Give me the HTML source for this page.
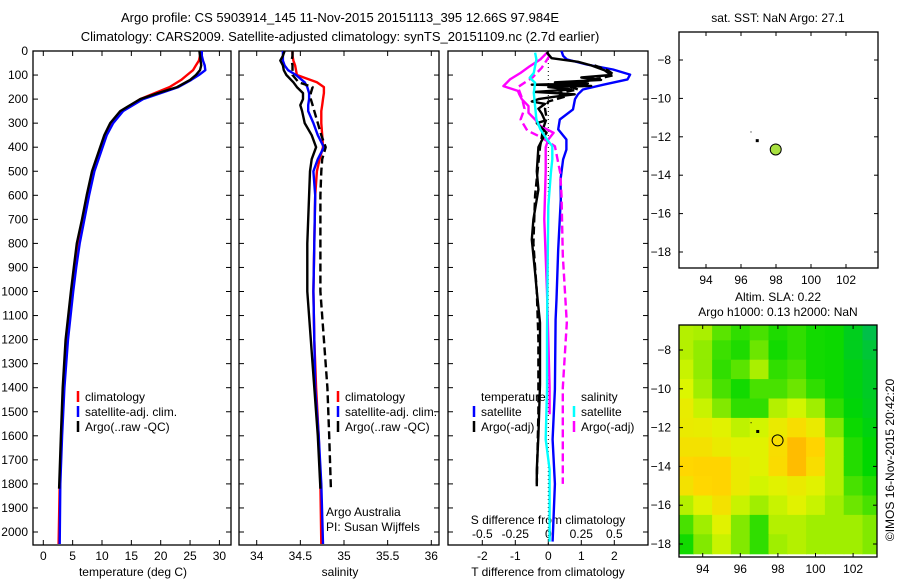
<!DOCTYPE html>
<html><head><meta charset="utf-8"><style>
html,body{margin:0;padding:0;background:#fff;}
svg{display:block;font-family:"Liberation Sans",sans-serif;}
text{font-size:12px;fill:#000;}
</style></head><body>
<svg id="chart" width="900" height="580" viewBox="0 0 900 580" xmlns="http://www.w3.org/2000/svg">
<defs><clipPath id="clipMap2"><rect x="679" y="325" width="198" height="232"/></clipPath></defs>
<text x="340" y="22" text-anchor="middle" style="font-size:13px">Argo profile: CS 5903914_145 11-Nov-2015 20151113_395 12.66S 97.984E</text>
<text x="340" y="41" text-anchor="middle" style="font-size:13px">Climatology: CARS2009. Satellite-adjusted climatology: synTS_20151109.nc (2.7d earlier)</text>
<g id="g"></g>
</svg>
<script>
// ---- data ----
const depthTickVals=[0,100,200,300,400,500,600,700,800,900,1000,1100,1200,1300,1400,1500,1600,1700,1800,1900,2000];
const tTickVals=[0,5,10,15,20,25,30];
const sTickVals=[34,34.5,35,35.5,36];
const sTickLabels=["34","34.5","35","35.5","36"];
const tdTickVals=[-2,-1,0,1,2];
const sdTickVals=[-0.5,-0.25,0,0.25,0.5];
const sdTickLabels=["-0.5","-0.25","0","0.25","0.5"];
const tDepths=[0,20,40,60,80,100,120,150,175,200,250,300,350,400,500,600,700,800,900,1000,1200,1400,1600,1800,2050];
const tArgoDepths=[0,20,40,60,80,100,120,150,175,200,250,300,350,400,500,600,700,800,900,1000,1200,1400,1600,1820];
const tArgo=[26.6,26.7,26.8,26.9,26.7,26.0,25.0,22.8,19.5,16.5,13.1,11.4,10.4,9.7,8.3,7.4,6.6,5.7,5.2,4.7,3.8,3.3,3.0,2.7];
const tClim=[26.7,26.7,26.5,26.0,25.5,24.5,23.5,21.5,19.0,16.5,13.3,11.6,10.6,9.9,8.5,7.6,6.8,6.0,5.4,4.9,4.0,3.4,3.1,2.8,2.6];
const tSat=[27.0,27.0,27.2,27.5,27.6,26.5,25.2,23.0,20.0,17.0,13.6,11.9,10.8,10.1,8.7,7.8,7.0,6.2,5.6,5.1,4.2,3.6,3.2,2.9,2.8];
const sDepths=[0,20,40,60,80,100,130,150,175,200,225,250,300,350,400,450,500,600,800,1000,1200,1400,1600,1800,2050];
const sArgoDepths=[0,20,40,60,80,100,130,150,175,200,225,250,300,350,400,450,500,600,800,1000,1200,1400,1600,1820];
const sClim=[34.41,34.41,34.42,34.44,34.45,34.46,34.69,34.77,34.77,34.76,34.75,34.74,34.74,34.75,34.76,34.72,34.69,34.67,34.66,34.65,34.66,34.68,34.71,34.73,34.74];
const sSat=[34.30,34.30,34.30,34.32,34.36,34.45,34.55,34.58,34.60,34.60,34.59,34.59,34.65,34.70,34.77,34.70,34.65,34.67,34.66,34.65,34.66,34.67,34.71,34.74,34.76];
const sArgo=[34.32,34.30,34.27,34.30,34.31,34.34,34.42,34.46,34.53,34.53,34.50,34.52,34.55,34.63,34.68,34.63,34.61,34.60,34.58,34.58,34.62,34.66,34.70,34.73];
const sArgoRaw=[34.41,34.41,34.40,34.41,34.41,34.41,34.48,34.64,34.62,34.62,34.64,34.66,34.70,34.74,34.79,34.75,34.74,34.73,34.73,34.73,34.77,34.81,34.83,34.85];
const tdSatDepths=[0,20,35,56,77,98,118,140,160,180,200,243,285,326,368,410,451,535,617,825,1033,1117,1407,1615,1800,2040];
const tdSat=[0.4,0.45,0.56,1.16,1.96,2.48,2.4,1.67,1.05,0.9,0.81,0.75,0.35,0.3,0.55,0.55,0.45,0.37,0.38,0.3,0.25,0.22,0.2,0.13,0.2,0.13];
const tdArgoDepths=[5,30,45,60,80,100,110,120,130,135,140,145,150,160,170,180,190,200,210,220,240,260,290,300,320,340,360,400,500,576,700,784,922,1000,1130,1387,1600,1740,1810];
const tdArgo=[-0.05,0.1,0.9,1.3,1.7,1.9,1.0,1.6,0.2,1.2,-0.5,1.3,0.0,0.7,-0.4,0.8,0.2,-0.3,-0.5,-0.1,-0.3,-0.2,-0.1,-0.35,-0.2,-0.05,-0.15,-0.3,-0.35,-0.3,-0.45,-0.5,-0.4,-0.35,-0.25,-0.25,-0.3,-0.35,-0.35];
const tdRawDepths=[60,80,100,115,130,145,160,175,190,210,240,280,320,400,600,800,1000,1200,1500,1800];
const tdRaw=[1.4,1.8,2.0,1.5,1.0,0.6,0.9,0.3,0.5,0.0,-0.1,-0.05,-0.15,-0.25,-0.4,-0.45,-0.35,-0.3,-0.3,-0.35];
const sdSatDepths=[7,35,63,91,111,132,174,230,285,326,368,396,451,506,645,922,1171,1407,1615,1740,2040];
const sdSat=[-0.1,-0.09,-0.1,-0.11,-0.14,-0.1,-0.11,-0.1,-0.09,-0.06,-0.01,0.03,0.03,0.02,0.0,-0.005,-0.01,-0.01,-0.02,0.01,0.01];
const sdArgoDepths=[7,35,63,91,118,146,166,180,201,229,257,285,312,340,368,400,500,700,1000,1400,1510];
const sdArgo=[-0.01,-0.06,-0.14,-0.21,-0.29,-0.34,-0.23,-0.22,-0.2,-0.15,-0.15,-0.1,-0.06,0.04,0.0,-0.02,-0.02,-0.03,-0.01,0.01,0.01];
const sdRawDepths=[20,70,110,150,195,240,285,330,360,396,506,600,850,1130,1400,1500,1800];
const sdRaw=[0.01,-0.05,-0.12,-0.23,-0.2,-0.18,-0.21,-0.16,-0.05,0.05,0.09,0.1,0.11,0.14,0.11,0.11,0.11];
const lonTicks=[94,96,98,100,102];
const latTicks=[-8,-10,-12,-14,-16,-18];
const floatLon=[97.984], floatLat=[-12.66];
const trackLon=[96.9,96.6], trackLat=[-12.2,-11.8];
const slaLons=[93,94,95,96,97,98,99,100,101,102,103];
const slaLats=[-7,-8,-9,-10,-11,-12,-13,-14,-15,-16,-17,-18];
const slaRows=[
[.62,.6,.45,.38,.42,.35,.38,.33,.32,.22,.1],
[.62,.55,.4,.35,.48,.33,.38,.33,.32,.22,.15],
[.66,.55,.38,.45,.6,.38,.42,.33,.32,.26,.2],
[.7,.58,.42,.33,.42,.42,.48,.38,.32,.26,.2],
[.75,.66,.52,.38,.38,.62,.68,.58,.38,.28,.22],
[.76,.75,.72,.64,.68,.76,.82,.76,.52,.32,.26],
[.8,.8,.76,.72,.72,.82,.93,.86,.62,.36,.3],
[.85,.86,.86,.76,.72,.83,.93,.82,.62,.36,.3],
[.8,.85,.86,.76,.68,.72,.76,.72,.62,.42,.36],
[.62,.72,.8,.66,.58,.66,.72,.66,.58,.48,.42],
[.42,.58,.72,.52,.38,.62,.62,.58,.58,.58,.52],
[.33,.52,.66,.52,.38,.58,.62,.58,.58,.58,.52]];

// ---- scales ----
const TOP=51, BOT=545;
const yD=d=>TOP+0.2405*d;
const xT=t=>43.3+5.87*t;
const xS=s=>256.7+87.3*(s-34);
const xTd=t=>548.3+33*t;
const xSd=s=>548.3+132*s;
const m1x=lon=>776+17.5*(lon-98), m1y=lat=>60+19.2*(-8-lat);
const m2x=lon=>702.7+18.8*(lon-94), m2y=lat=>350+19.4*(-8-lat);

const NS="http://www.w3.org/2000/svg";
const root=document.getElementById('g');
function mk(tag,attrs,parent){const e=document.createElementNS(NS,tag);for(const k in attrs)e.setAttribute(k,attrs[k]);(parent||root).appendChild(e);return e;}
function txt(s,x,y,anchor,extra){const e=mk('text',Object.assign({x:x,y:y,'text-anchor':anchor||'middle'},extra||{}));e.textContent=s;return e;}

const panels=[{x0:33,x1:231,n:'temperature-panel'},{x0:239,x1:439,n:'salinity-panel'},{x0:448,x1:648,n:'difference-panel'}];
panels.forEach(p=>{
  const r=mk('rect',{x:p.x0,y:TOP,width:p.x1-p.x0,height:BOT-TOP,fill:'none',stroke:'#000','stroke-width':1.3});
  
  
  depthTickVals.forEach(d=>{
    const t1=mk('line',{x1:p.x0,x2:p.x0+5,y1:yD(d),y2:yD(d),stroke:'#000'});
    
    
    const t2=mk('line',{x1:p.x1-5,x2:p.x1,y1:yD(d),y2:yD(d),stroke:'#000'});
    
    
  });
});
depthTickVals.forEach(d=>{
  const e=txt(String(d),28,yD(d)+4,'end');
  
  
});
function xticks(vals,labels,fx,y){
  vals.forEach((v,i)=>{
    const a=mk('line',{x1:fx(v),x2:fx(v),y1:TOP,y2:TOP+5,stroke:'#000'});
    
    
    const b=mk('line',{x1:fx(v),x2:fx(v),y1:BOT-5,y2:BOT,stroke:'#000'});
    
    
    const t=txt(labels[i],fx(v),y);
    
    
  });
}
xticks(tTickVals,tTickVals.map(String),xT,560);
xticks(sTickVals,sTickLabels,xS,560);
xticks(tdTickVals,tdTickVals.map(String),xTd,560);
sdTickVals.forEach((v,i)=>{const t=txt(sdTickLabels[i],xSd(v),538);
  
  });

let e;
e=txt('temperature (deg C)',133,576);
e=txt('salinity',340,576);
e=txt('T difference from climatology',548,576);
e=txt('S difference from climatology',548,524);
e=txt('Argo Australia',326,516,'start');
e=txt('PI: Susan Wijffels',326,531,'start');

e=mk('line',{x1:xTd(0),x2:xTd(0),y1:TOP,y2:BOT,stroke:'#000','stroke-dasharray':'1,3'});


function series(depths,vals,fx,color,dash,name){
  const pts=vals.map((v,i)=>fx(v).toFixed(1)+','+yD(depths[i]).toFixed(1)).join(' ');
  const l=mk('polyline',{points:pts,fill:'none',stroke:color,'stroke-width':2.4,'stroke-linejoin':'round'});
  if(dash)l.setAttribute('stroke-dasharray',dash);
  
  
}
series(tDepths,tClim,xT,'#ff0000',null,'temperature-climatology-line');
series(tDepths,tSat,xT,'#0000ff',null,'temperature-satellite-line');
series(tArgoDepths,tArgo,xT,'#000',null,'temperature-argo-line');
series(sDepths,sClim,xS,'#ff0000',null,'salinity-climatology-line');
series(sDepths,sSat,xS,'#0000ff',null,'salinity-satellite-line');
series(sArgoDepths,sArgoRaw,xS,'#000','8,4','salinity-argo-raw-line');
series(sArgoDepths,sArgo,xS,'#000',null,'salinity-argo-line');
series(tdSatDepths,tdSat,xTd,'#0000ff',null,'t-diff-satellite-line');
series(sdRawDepths,sdRaw,xSd,'#ff00ff','8,4','s-diff-argo-raw-line');
series(sdArgoDepths,sdArgo,xSd,'#ff00ff',null,'s-diff-argo-line');
series(tdRawDepths,tdRaw,xTd,'#000','8,4','t-diff-argo-raw-line');
series(tdArgoDepths,tdArgo,xTd,'#000',null,'t-diff-argo-line');
series(sdSatDepths,sdSat,xSd,'#00ffff',null,'s-diff-satellite-line');

function legend(x,y,color,label,name){
  const b=mk('line',{x1:x,x2:x,y1:y-10,y2:y+1,stroke:color,'stroke-width':2.5});
  
  
  const t=txt(label,x+7,y,'start');
  
  
}
legend(78,401,'#ff0000','climatology','legend-t-climatology');
legend(78,416,'#0000ff','satellite-adj. clim.','legend-t-satellite');
legend(78,431,'#000','Argo(..raw -QC)','legend-t-argo');
legend(338,401,'#ff0000','climatology','legend-s-climatology');
legend(338,416,'#0000ff','satellite-adj. clim.','legend-s-satellite');
legend(338,431,'#000','Argo(..raw -QC)','legend-s-argo');
e=txt('temperature',481,401,'start');
e=txt('salinity',581,401,'start');
legend(474,416,'#0000ff','satellite','legend-td-satellite');
legend(474,431,'#000','Argo(-adj)','legend-td-argo');
legend(574,416,'#00ffff','satellite','legend-sd-satellite');
legend(574,431,'#ff00ff','Argo(-adj)','legend-sd-argo');

function mapAxes(x0,y0,x1,y1,fx,fy,name){
  lonTicks.forEach(v=>{
    const a=mk('line',{x1:fx(v),x2:fx(v),y1:y0,y2:y0+4,stroke:'#000'});
    const b=mk('line',{x1:fx(v),x2:fx(v),y1:y1-4,y2:y1,stroke:'#000'});
    const t=txt(String(v),fx(v),y1+16);
  });
  latTicks.forEach(v=>{
    const a=mk('line',{x1:x0,x2:x0+4,y1:fy(v),y2:fy(v),stroke:'#000'});
    const b=mk('line',{x1:x1-4,x2:x1,y1:fy(v),y2:fy(v),stroke:'#000'});
    const t=txt(String(v).replace('-','\u2212'),x0-8,fy(v)+4,'end');
  });
  const r=mk('rect',{x:x0,y:y0,width:x1-x0,height:y1-y0,fill:'none',stroke:'#000','stroke-width':1.3});
  
}
function col(v){
  const st=[[0,[0,180,110]],[0.3,[0,215,0]],[0.5,[120,232,0]],[0.7,[220,246,0]],[0.85,[255,215,0]],[1,[255,165,0]]];
  for(let i=1;i<st.length;i++){if(v<=st[i][0]){const a=st[i-1],b=st[i],f=(v-a[0])/(b[0]-a[0]);
    return 'rgb('+a[1].map((c,k)=>Math.round(c+(b[1][k]-c)*f)).join(',')+')';}}
  return 'rgb(255,165,0)';
}
const hg=mk('g',{'clip-path':'url(#clipMap2)'});


slaRows.forEach((row,j)=>row.forEach((v,i)=>{
  const lon=slaLons[i],lat=slaLats[j];
  const x=m2x(lon-0.5),y=m2y(lat+0.5),w=m2x(lon+0.5)-x,h=m2y(lat-0.5)-y;
  const c=mk('rect',{x:x,y:y,width:w+0.6,height:h+0.6,fill:col(v)},hg);
  
  
}));
mapAxes(679,32,878,268,m1x,m1y,'sst-map');
mapAxes(679,325,877,557,m2x,m2y,'sla-map');
[[m1x,m1y,'sst'],[m2x,m2y,'sla']].forEach(([fx,fy,n])=>{
  trackLon.forEach((lo,i)=>{
    const d=mk('rect',{x:fx(lo)-1,y:fy(trackLat[i])-1.5,width:i?1:3,height:i?1:3,fill:'#000'});
    
  });
  const c=mk('circle',{cx:fx(floatLon[0]),cy:fy(floatLat[0]),r:5.5,fill:n==='sst'?'#a8e040':'none',stroke:'#000','stroke-width':1});
  
});
e=txt('sat. SST: NaN Argo: 27.1',778,22);
e=txt('Altim. SLA: 0.22',778,301);
e=txt('Argo h1000: 0.13 h2000: NaN',778,316);
e=txt('\u00A9IMOS 16-Nov-2015 20:42:20',0,0,'middle',{transform:'translate(894,460) rotate(-90)'});

</script>
</body></html>
